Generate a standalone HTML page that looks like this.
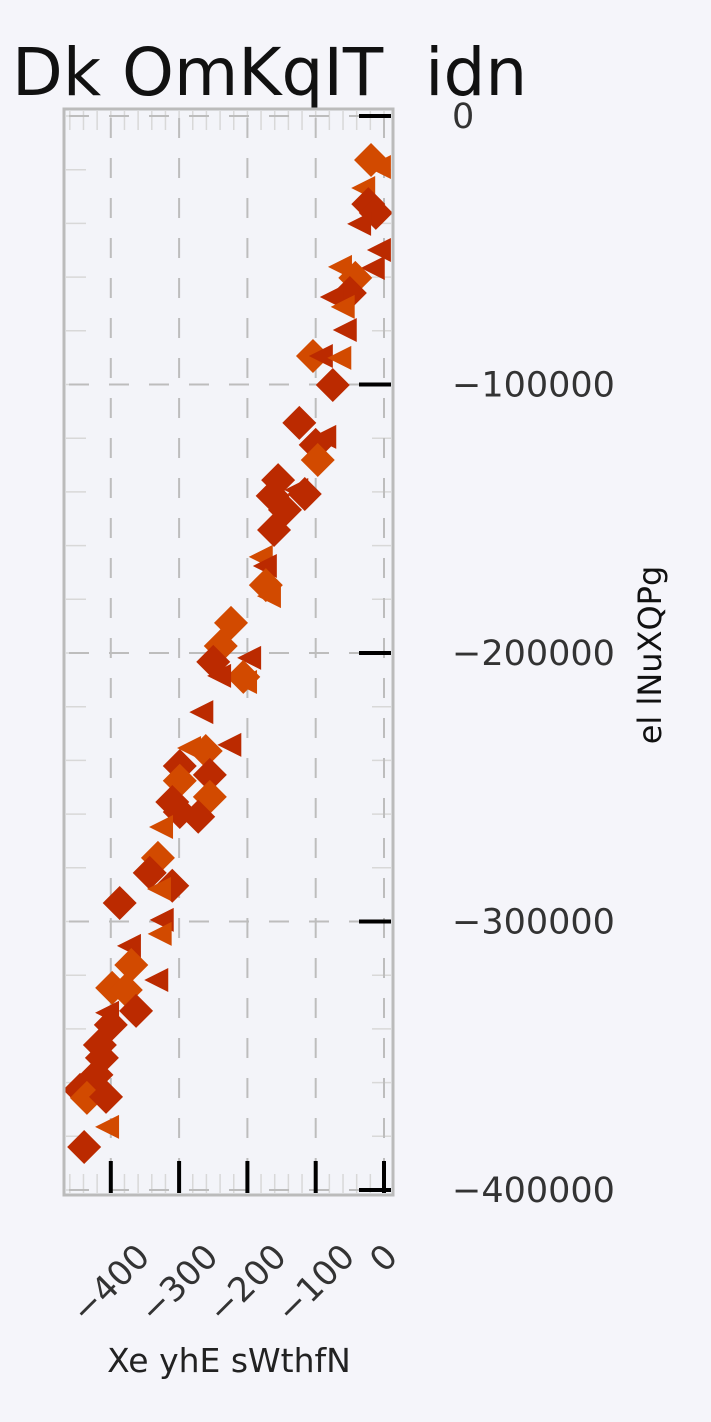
<!DOCTYPE html>
<html><head><meta charset="utf-8">
<style>
html,body{margin:0;padding:0;background:#f5f5fa;}
svg{display:block;font-family:"DejaVu Sans","Liberation Sans",sans-serif;}
</style></head>
<body>
<svg id="chart" width="711" height="1422" viewBox="0 0 711 1422">
<rect x="0" y="0" width="711" height="1422" fill="#f5f5fa"/>
<text x="12" y="95" font-size="66" fill="#111" style="white-space:pre" xml:space="preserve">Dk OmKqIT  idn</text>
<rect x="64" y="109" width="329" height="1086" fill="#f3f4f9"/>
<g id="grid"></g>
<g id="ticks"></g>
<g id="marks"></g>
<rect x="64" y="109" width="329" height="1086" fill="none" stroke="#bbbbbb" stroke-width="3"/>
<g id="labels"></g>
<text x="229" y="1372" font-size="33" fill="#222" text-anchor="middle">Xe yhE sWthfN</text>
<text transform="translate(661,655) rotate(-90)" font-size="32" fill="#111" text-anchor="middle">el lNuXQPg</text>
</svg>
<script>
const xTicks=[-400,-300,-200,-100,0];
const xTickLabels=["\u2212400","\u2212300","\u2212200","\u2212100","0"];
const yTicks=[0,-100000,-200000,-300000,-400000];
const yTickLabels=["0","\u2212100000","\u2212200000","\u2212300000","\u2212400000"];
const xs=[-19,-6,-29,-23,-12,-35,-6,-63,-15,-42,-50,-75,-59,-56,-104,-91,-64,-75,-124,-86,-100,-97,-155,-163,-116,-127,-145,-161,-179,-173,-173,-167,-224,-239,-250,-196,-206,-202,-240,-266,-225,-261,-284,-299,-255,-299,-255,-310,-299,-272,-325,-331,-343,-310,-328,-387,-324,-327,-372,-370,-332,-398,-378,-363,-404,-400,-416,-413,-421,-445,-435,-407,-404,-439];
const ys=[-16400,-19000,-26800,-32800,-36100,-40200,-49900,-56200,-56600,-60300,-65900,-67400,-71100,-79700,-89400,-89400,-90100,-100200,-114300,-119500,-122500,-128100,-135600,-141500,-140800,-139300,-146700,-154200,-164200,-167600,-174700,-178800,-188800,-197400,-203300,-201800,-208900,-210800,-208500,-222000,-234200,-236500,-235400,-242100,-245400,-247600,-253600,-255500,-259200,-261000,-264800,-276300,-281900,-286700,-287900,-293100,-299400,-304600,-309100,-316200,-321800,-324700,-325500,-333300,-334000,-338500,-346000,-350800,-357100,-362700,-365700,-365300,-376500,-384000];
const shapes=["d","t","t","d","d","t","t","t","t","d","d","t","t","t","d","t","t","d","d","t","d","d","d","d","d","t","d","d","t","t","d","t","d","d","d","t","d","t","t","t","t","d","t","d","d","d","d","d","d","d","t","d","d","d","t","d","t","t","t","d","t","d","d","d","t","d","d","d","d","d","d","d","t","d"];
const colors=["o","o","o","r","r","r","r","o","r","o","r","r","o","r","o","r","o","r","r","r","r","o","r","r","r","r","r","r","o","r","o","o","o","o","r","r","o","o","r","r","r","o","o","r","r","o","o","r","r","r","o","o","r","r","o","r","r","o","r","o","r","o","o","r","r","r","r","r","r","r","o","r","o","r"];
const NS="http://www.w3.org/2000/svg";
function sx(v){return 384+v*0.683;}
function sy(v){return 116-v*0.002685;}
function mk(tag,attrs,parent){const e=document.createElementNS(NS,tag);for(const k in attrs)e.setAttribute(k,attrs[k]);parent.appendChild(e);return e;}
const grid=document.getElementById('grid'),ticks=document.getElementById('ticks'),marks=document.getElementById('marks'),labels=document.getElementById('labels');
for(let v=-460;v<=10;v+=20){const x=sx(v);if(x<66||x>391)continue;
 const a=mk('line',{x1:x,y1:111,x2:x,y2:130,stroke:'#d8d8d8','stroke-width':1.5},grid);
 
 const b=mk('line',{x1:x,y1:1174,x2:x,y2:1193,stroke:'#d8d8d8','stroke-width':1.5},grid);
 }
for(let v=0;v>=-400000;v-=20000){const y=sy(v);
 const a=mk('line',{x1:66,y1:y,x2:86,y2:y,stroke:'#d8d8d8','stroke-width':1.5},grid);
 
 const b=mk('line',{x1:372,y1:y,x2:391,y2:y,stroke:'#d8d8d8','stroke-width':1.5},grid);
 }
xTicks.forEach(v=>{const g=mk('line',{x1:sx(v),y1:111,x2:sx(v),y2:1193,stroke:'#bdbdbd','stroke-width':2,'stroke-dasharray':'20,20','stroke-dashoffset':'-7'},grid);
 });
yTicks.forEach(v=>{const g=mk('line',{x1:66,y1:sy(v),x2:391,y2:sy(v),stroke:'#bdbdbd','stroke-width':2,'stroke-dasharray':'20,20','stroke-dashoffset':'-3'},grid);
 });
const fsX=34;
xTicks.forEach((v,i)=>{const t=mk('line',{x1:sx(v),y1:1161,x2:sx(v),y2:1193,stroke:'#000','stroke-width':4},ticks);
 
 const l=mk('text',{x:0,y:0,'font-size':fsX,fill:'#333','text-anchor':'middle','dominant-baseline':'central'},labels);
 l.textContent=xTickLabels[i];
 
 const w=l.getComputedTextLength();
 const h=(w+0.73*fsX)/Math.SQRT2;
 l.setAttribute('transform',`translate(${sx(v)},${1242+h/2}) rotate(-45)`);});
yTicks.forEach((v,i)=>{const t=mk('line',{x1:359,y1:sy(v),x2:391,y2:sy(v),stroke:'#000','stroke-width':4},ticks);
 
 const l=mk('text',{x:452,y:sy(v)+12,'font-size':35,fill:'#333'},labels);
 l.textContent=yTickLabels[i];
 });
const cmap={r:'#bb2a00',o:'#d24a00'};
xs.forEach((xv,i)=>{const cx=sx(xv),cy=sy(ys[i]);let p;
 if(shapes[i]==='d'){const h=17;p=mk('polygon',{points:`${cx},${cy-h} ${cx+h},${cy} ${cx},${cy+h} ${cx-h},${cy}`,fill:cmap[colors[i]]},marks);
  }
 else{p=mk('polygon',{points:`${cx-13},${cy} ${cx+11},${cy-12} ${cx+11},${cy+12}`,fill:cmap[colors[i]]},marks);
  }
 });
</script>
</body></html>
